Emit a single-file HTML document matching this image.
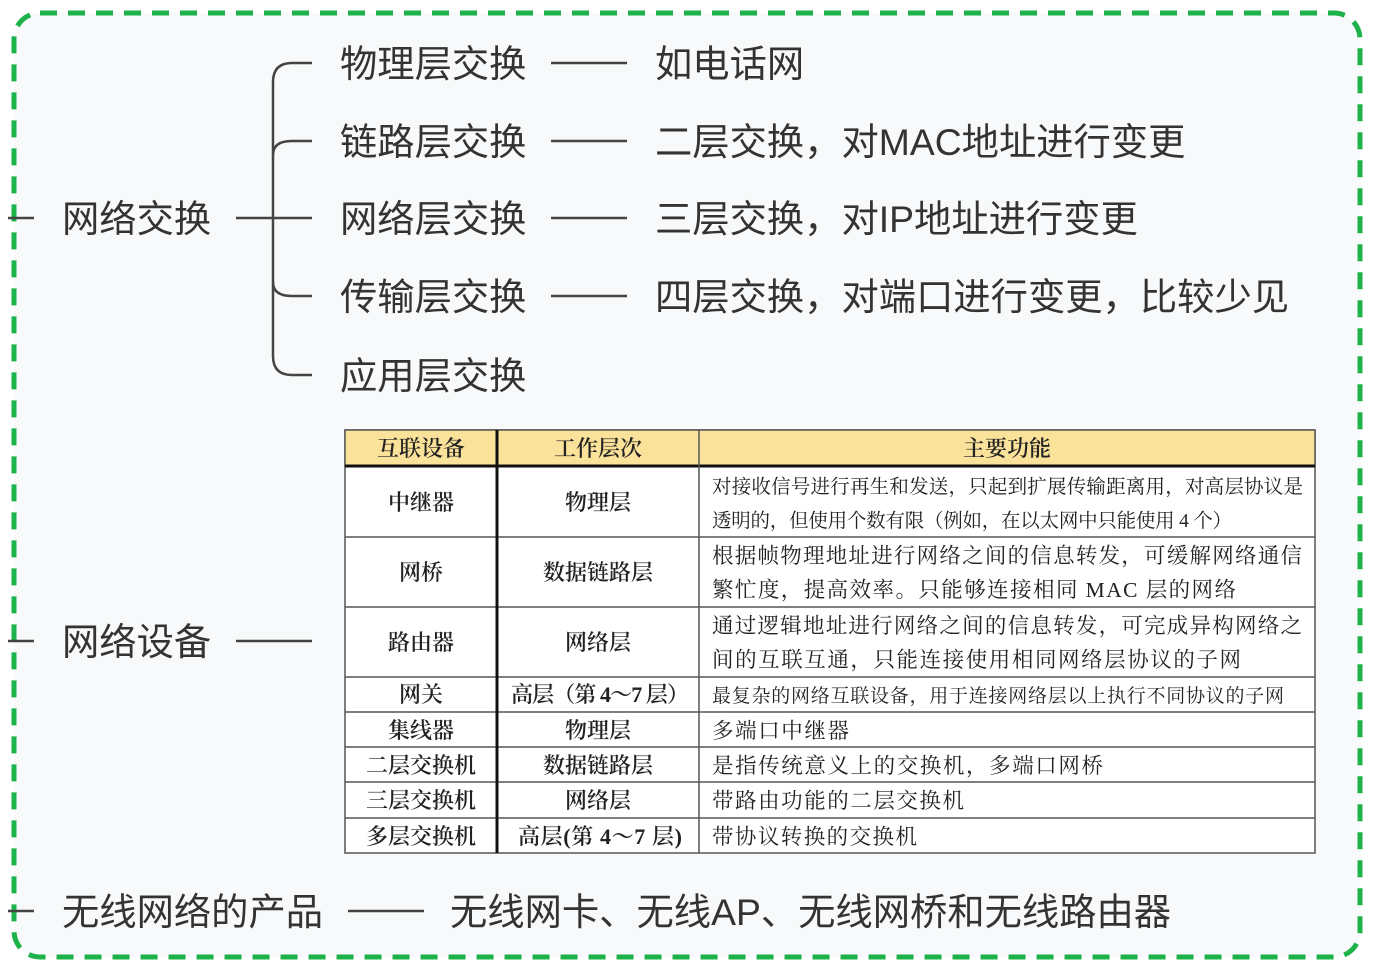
<!DOCTYPE html>
<html><head><meta charset="utf-8"><style>
html,body{margin:0;padding:0;background:#fff;}
svg{display:block;}
.m{font-family:"Liberation Sans","Noto Sans CJK SC",sans-serif;font-size:37.3px;fill:#333;}
.t{font-family:"Liberation Serif","Noto Serif CJK SC",serif;fill:#222;}
</style></head><body>
<svg width="1374" height="980" viewBox="0 0 1374 980" xmlns="http://www.w3.org/2000/svg">
<rect x="14" y="13" width="1346" height="944" rx="26" fill="#f7f9fa" stroke="#1db34a" stroke-width="5" stroke-dasharray="17 11"/>
<g stroke="#444" stroke-width="2.5" fill="none">
<line x1="8" y1="218" x2="34" y2="218"/>
<line x1="8" y1="641" x2="34" y2="641"/>
<line x1="8" y1="911" x2="34" y2="911"/>
<line x1="236" y1="218" x2="312" y2="218"/>
<path d="M312 63 H292 Q273 63 273 82 V356 Q273 375 292 375 H312"/>
<path d="M312 141 H292 Q273 141 273 155"/>
<path d="M312 296 H292 Q273 296 273 282"/>
<line x1="551" y1="63" x2="627" y2="63"/>
<line x1="551" y1="141" x2="627" y2="141"/>
<line x1="551" y1="218" x2="627" y2="218"/>
<line x1="551" y1="296" x2="627" y2="296"/>
<line x1="236" y1="641" x2="312" y2="641"/>
<line x1="348" y1="911" x2="424" y2="911"/>
</g>
<g class="m">
<text x="340" y="77">物理层交换</text>
<text x="655" y="77">如电话网</text>
<text x="340" y="155">链路层交换</text>
<text x="655" y="155">二层交换，对MAC地址进行变更</text>
<text x="62" y="232">网络交换</text>
<text x="340" y="232">网络层交换</text>
<text x="655" y="232">三层交换，对IP地址进行变更</text>
<text x="340" y="310">传输层交换</text>
<text x="655" y="310">四层交换，对端口进行变更，比较少见</text>
<text x="340" y="389">应用层交换</text>
<text x="62" y="655">网络设备</text>
<text x="62" y="925">无线网络的产品</text>
<text x="450" y="925">无线网卡、无线AP、无线网桥和无线路由器</text>
</g>
<rect x="345" y="430" width="970" height="423" fill="#fff" stroke="#555" stroke-width="1.5"/>
<rect x="345" y="430" width="970" height="36" fill="#fbe29a" stroke="#555" stroke-width="1.5"/>
<g stroke="#555" stroke-width="1.5">
<line x1="345" y1="466" x2="1315" y2="466" stroke="#111" stroke-width="3"/>
<line x1="345" y1="537" x2="1315" y2="537"/>
<line x1="345" y1="607" x2="1315" y2="607"/>
<line x1="345" y1="677" x2="1315" y2="677"/>
<line x1="345" y1="712" x2="1315" y2="712"/>
<line x1="345" y1="747" x2="1315" y2="747"/>
<line x1="345" y1="782" x2="1315" y2="782"/>
<line x1="345" y1="818" x2="1315" y2="818"/>
<line x1="497" y1="430" x2="497" y2="853" stroke="#111" stroke-width="3"/>
<line x1="699" y1="430" x2="699" y2="853"/>
</g>
<g class="t" font-size="22" font-weight="600" text-anchor="middle">
<text x="421" y="456">互联设备</text>
<text x="598" y="456">工作层次</text>
<text x="1007" y="456">主要功能</text>
<text x="421" y="510">中继器</text>
<text x="598" y="510">物理层</text>
<text x="421" y="580">网桥</text>
<text x="598" y="580">数据链路层</text>
<text x="421" y="650">路由器</text>
<text x="598" y="650">网络层</text>
<text x="421" y="702">网关</text>
<text x="600" y="702" textLength="178">高层（第 4～7 层）</text>
<text x="421" y="738">集线器</text>
<text x="598" y="738">物理层</text>
<text x="421" y="773">二层交换机</text>
<text x="598" y="773">数据链路层</text>
<text x="421" y="808">三层交换机</text>
<text x="598" y="808">网络层</text>
<text x="421" y="844">多层交换机</text>
<text x="600" y="844" textLength="164">高层(第 4～7 层)</text>
</g>
<g class="t">
<text x="712" y="493" font-size="19.5" textLength="591">对接收信号进行再生和发送，只起到扩展传输距离用，对高层协议是</text>
<text x="712" y="527" font-size="19.5" textLength="520">透明的，但使用个数有限（例如，在以太网中只能使用 4 个）</text>
<text x="712" y="563" font-size="21.5" textLength="590">根据帧物理地址进行网络之间的信息转发，可缓解网络通信</text>
<text x="712" y="597" font-size="21.5" textLength="524">繁忙度，提高效率。只能够连接相同 MAC 层的网络</text>
<text x="712" y="633" font-size="21.5" textLength="590">通过逻辑地址进行网络之间的信息转发，可完成异构网络之</text>
<text x="712" y="667" font-size="21.5" textLength="529">间的互联互通，只能连接使用相同网络层协议的子网</text>
<text x="712" y="702" font-size="19" textLength="572">最复杂的网络互联设备，用于连接网络层以上执行不同协议的子网</text>
<text x="712" y="738" font-size="21.5" textLength="137">多端口中继器</text>
<text x="712" y="773" font-size="21.5" textLength="391">是指传统意义上的交换机，多端口网桥</text>
<text x="712" y="808" font-size="21.5" textLength="252">带路由功能的二层交换机</text>
<text x="712" y="844" font-size="21.5" textLength="205">带协议转换的交换机</text>
</g>
</svg>
</body></html>
